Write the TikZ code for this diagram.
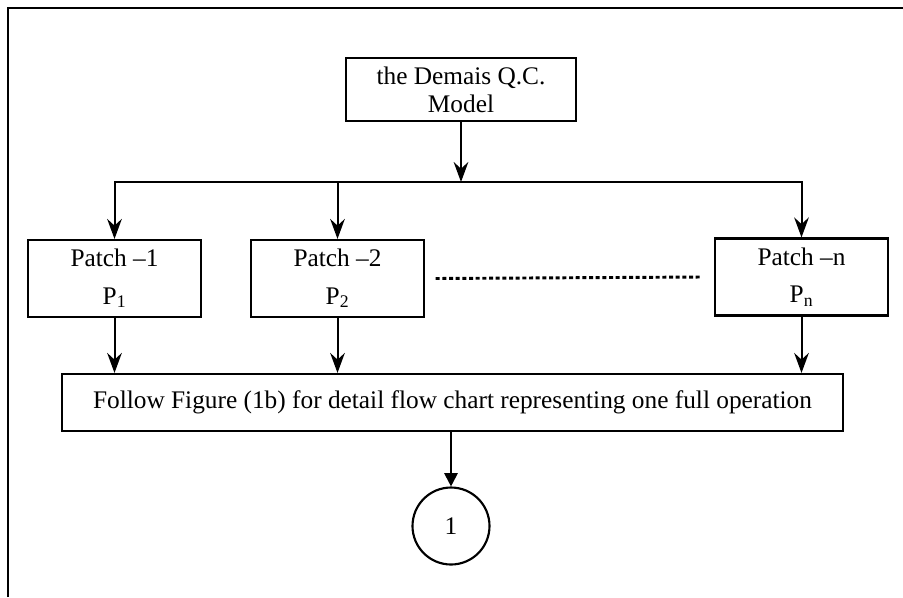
\documentclass[tikz,border=0pt]{standalone}
\usepackage{fontspec}
\setmainfont{Liberation Serif}
\usepackage{tikz}
\usetikzlibrary{arrows.meta,positioning,calc}

\tikzset{
  box/.style={draw, line width=1.6pt, inner sep=0.75pt, align=center, font=\fontsize{19}{21}\selectfont},
  patchbox/.style={box, minimum width=129.75pt, minimum height=57.75pt, font=\fontsize{19}{28}\selectfont},
  flow/.style={line width=1.5pt, -{Stealth[length=15pt,width=11pt,inset=5pt]}},
  flowend/.style={line width=1.5pt, -{Triangle[length=10pt,width=10pt]}},
}

\begin{document}
\begin{tikzpicture}[x=0.75pt,y=0.75pt,yscale=-1,xscale=1]
  \useasboundingbox (0,0) rectangle (903,597);

  %Shape: Frame (left and top sides)
  \draw [line width=2pt] (8,597) -- (8,8) -- (903,8) ;

  % Text Node
  \node (model) [box, minimum width=172.5pt, minimum height=47.25pt] at (461,89.5) {the Demais Q.C.\\Model};
  % Text Node
  \node (p1) [patchbox] at (114.5,278.5) {Patch --1\\P\textsubscript{1}};
  % Text Node
  \node (p2) [patchbox] at (337.5,278.5) {Patch --2\\P\textsubscript{2}};
  % Text Node
  \node (pn) [patchbox] at (801.5,277) {Patch --n\\P\textsubscript{n}};
  % Text Node
  \node (follow) [box, minimum width=585.75pt, minimum height=42.75pt] at (452.5,402.5) {Follow Figure (1b) for detail flow chart representing one full operation};
  %Shape: Circle
  \node (circ) [box, circle, minimum size=57.75pt] at (451,526) {1};

  \coordinate (split) at (461,182);

  % Connectors
  \draw [flow] (model) -- (split);
  \draw [flow] (split) -| (p1);
  \draw [flow] (split) -| (pn);
  \draw [flow] (p2 |- split) -- (p2);
  \foreach \p in {p1,p2,pn}
    \draw [flow] (\p) -- (\p |- follow.north);
  \draw [flowend] (follow.south -| circ) -- (circ);

  %Shape: dotted gap
  \draw [line width=2.2pt, dash pattern=on 3pt off 2pt] ([xshift=8pt]p2.east) -- ([xshift=-9pt]pn.west);

\end{tikzpicture}
\end{document}
